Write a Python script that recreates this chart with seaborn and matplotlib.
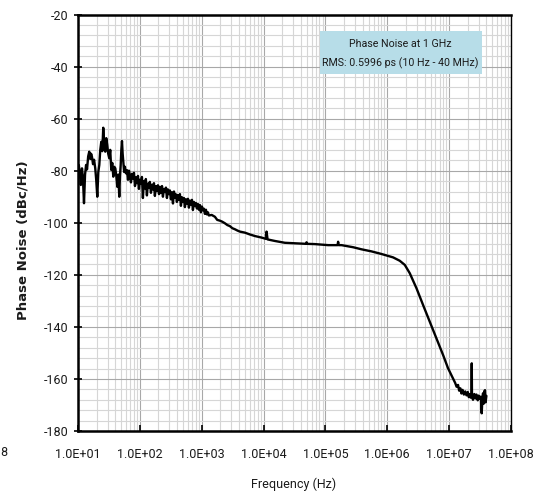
import matplotlib
matplotlib.use("Agg")
import matplotlib.pyplot as plt
from matplotlib.ticker import FixedLocator, FuncFormatter, NullFormatter
from matplotlib.patches import Rectangle
import seaborn as sns
import pandas as pd
import numpy as np

# Offset frequency (Hz) and phase noise (dBc/Hz)
freq_hz = [
    10.0, 10.3, 10.7, 11.1, 11.6, 12.0, 12.5, 13.0, 13.5, 14.0,
    14.6, 15.2, 15.8, 16.3, 16.8, 17.5, 18.2, 19.0, 19.7, 20.5,
    21.3, 22.1, 22.9, 23.8, 24.7, 25.6, 26.6, 27.6, 28.6, 29.7,
    30.8, 32.0, 33.2, 34.5, 35.8, 37.2, 38.6, 40.1, 41.6, 43.2,
    44.8, 46.5, 47.7, 49.0, 50.2, 51.4, 52.7, 54.0, 55.7,
    57.4, 59.5, 61.9, 64.3, 66.7, 69.2, 71.8, 74.5, 77.4, 80.3,
    83.4, 86.5, 89.8, 93.2, 96.6, 100, 104, 108, 112, 116,
    121, 125, 130, 135, 140, 145, 151, 157, 163, 169,
    175, 182, 189, 196, 204, 211, 219, 228, 236, 245,
    254, 264, 274, 284, 295, 306, 318, 330, 343, 356,
    369, 383, 397, 412, 428, 444, 461, 479, 497, 516,
    535, 556, 577, 599, 621, 645, 669, 695, 721, 748,
    776, 806, 836, 868, 901, 935, 971, 1008, 1045, 1085,
    1127, 1170, 1213, 1260, 1306,
    1450, 1633, 1780, 1966, 2150, 2370, 2600, 2855, 3130, 3440,
    3780, 4140, 4550, 4990, 6010, 7230, 9290, 11000, 11170, 11610,
    15240, 22100, 32050, 48500, 49500, 51000, 67500, 110700, 157000, 160400,
    164000, 181900, 280000, 382700, 555500, 805600, 1.24e6, 1.59e6, 1.92e6, 2.31e6,
    2.97e6, 3.79e6, 4.86e6, 6.24e6, 7.98e6, 9.60e6, 1.156e7, 1.25e7, 1.32e7, 1.393e7,
    1.45e7, 1.52e7, 1.58e7, 1.65e7, 1.73e7, 1.82e7, 1.905e7, 2.0e7, 2.08e7, 2.155e7,
    2.23e7, 2.30e7, 2.32e7, 2.34e7, 2.43e7, 2.55e7, 2.66e7, 2.76e7, 2.9e7, 3.0e7,
    3.12e7, 3.25e7, 3.36e7, 3.45e7, 3.53e7, 3.62e7, 3.70e7, 3.80e7, 3.88e7, 4.0e7,
]
phase_noise_dbc = [
    -79.0, -77.8, -81.0, -85.5, -79.1, -82.5, -92.5, -81.5, -77.8, -79.5,
    -74.5, -72.7, -75.5, -73.5, -74.6, -77.5, -75.8, -79.1, -83.5, -90.0,
    -80.5, -77.8, -72.0, -68.9, -72.5, -63.5, -70.5, -72.7, -67.5, -70.1,
    -73.5, -75.2, -72.0, -79.7, -77.0, -82.3, -78.5, -79.1, -82.0, -86.2,
    -81.5, -90.0, -82.0, -77.8, -72.0, -68.6, -73.5, -76.5, -80.5,
    -78.5, -81.0, -79.8, -83.5, -80.0, -82.0, -84.5, -81.2, -83.0, -80.8,
    -85.9, -82.6, -84.8, -82.0, -87.0, -83.5, -85.0, -82.4, -90.5, -84.0,
    -86.8, -83.2, -89.5, -85.0, -86.5, -84.3, -88.5, -85.4, -87.2, -84.8,
    -89.7, -86.0, -87.8, -85.6, -89.0, -86.2, -88.6, -85.9, -90.0, -87.0,
    -88.2, -86.5, -90.5, -87.2, -89.0, -87.6, -91.0, -88.3, -92.6, -88.0,
    -90.4, -89.1, -92.0, -89.4, -91.2, -89.0, -93.5, -90.2, -92.0, -90.5,
    -94.0, -91.0, -92.6, -90.8, -94.2, -91.5, -93.0, -91.2, -95.1, -92.0,
    -93.6, -92.4, -94.5, -92.8, -95.0, -93.2, -96.0, -93.8, -95.2, -94.6,
    -96.6, -95.0, -96.8, -96.0, -97.2,
    -97.0, -97.7, -98.9, -99.2, -99.6, -100.2, -100.9, -101.3, -102.1, -102.5,
    -103.0, -103.4, -103.6, -103.8, -104.5, -105.1, -105.7, -106.2, -103.4, -106.4,
    -107.0, -107.7, -107.9, -108.1, -107.5, -108.1, -108.2, -108.6, -108.6, -107.3,
    -108.6, -108.6, -109.4, -110.2, -111.0, -112.0, -113.3, -114.6, -116.2, -119.4,
    -125.2, -131.6, -138.0, -144.4, -150.8, -155.9, -159.8, -161.5, -163.0, -162.3,
    -164.5, -163.6, -165.6, -164.2, -166.0, -164.8, -166.3, -165.0, -167.0, -165.8,
    -167.2, -166.0, -154.0, -166.5, -168.0, -165.8, -167.5, -166.0, -168.2, -166.4,
    -167.6, -166.8, -173.2, -167.5, -165.5, -169.5, -164.8, -164.3, -169.0, -166.5,
]

x_tick_exponents = [1, 2, 3, 4, 5, 6, 7, 8]
y_ticks = [-20, -40, -60, -80, -100, -120, -140, -160, -180]
box_lines = ["Phase Noise at 1 GHz", "RMS: 0.5996 ps (10 Hz - 40 MHz)"]

sns.set_theme(style="white")
plt.rcParams["font.family"] = ["Roboto", "DejaVu Sans"]

df = pd.DataFrame({"Frequency (Hz)": freq_hz, "Phase Noise (dBc/Hz)": phase_noise_dbc})

fig = plt.figure(figsize=(5.37, 4.92), dpi=100)
ax = fig.add_axes([78 / 537, 1 - 431 / 492, 433 / 537, 416.5 / 492])

sns.lineplot(data=df, x="Frequency (Hz)", y="Phase Noise (dBc/Hz)", ax=ax,
             color="black", linewidth=1.7, estimator=None, sort=False, zorder=5)

ax.set_xscale("log")
ax.set_xlim(10, 1e8)
ax.set_ylim(-180, -20)

major_x = [10.0 ** e for e in x_tick_exponents]
minor_x = [m * 10.0 ** e for e in x_tick_exponents[:-1] for m in range(2, 10)]
ax.xaxis.set_major_locator(FixedLocator(major_x))
ax.xaxis.set_minor_locator(FixedLocator(minor_x))
ax.xaxis.set_major_formatter(FuncFormatter(lambda v, p: "1.0E+%02d" % int(round(np.log10(v)))))
ax.xaxis.set_minor_formatter(NullFormatter())

ax.yaxis.set_major_locator(FixedLocator(y_ticks))
ax.yaxis.set_minor_locator(FixedLocator(list(range(-180, -19, 4))))
ax.yaxis.set_major_formatter(FuncFormatter(lambda v, p: "%d" % v))

ax.grid(True, which="major", color="#a8a8a8", linewidth=0.8, zorder=0)
ax.grid(True, which="minor", color="#d6d6d6", linewidth=0.8, zorder=0)
ax.set_axisbelow(True)

ax.tick_params(axis="x", which="major", direction="in", length=4, width=1.2,
               colors="black", labelsize=9, pad=12, bottom=True)
ax.tick_params(axis="y", which="major", direction="inout", length=6, width=1.2,
               colors="black", labelsize=9, pad=4, left=True)
ax.tick_params(which="minor", length=0)
for lab in ax.get_xticklabels() + ax.get_yticklabels():
    lab.set_color("#1a1a1a")

for side in ["left", "bottom", "top"]:
    ax.spines[side].set_color("black")
    ax.spines[side].set_linewidth(1.8)
ax.spines["right"].set_color("black")
ax.spines["right"].set_linewidth(1.0)

ax.set_xlabel("Frequency (Hz)", fontsize=9, color="#1a1a1a")
ax.xaxis.set_label_coords(0.497, -0.112)
ax.set_ylabel("Phase Noise (dBc/Hz)", fontsize=9.5, fontweight="bold",
              family=["DejaVu Sans"], color="#1a1a1a")
ax.yaxis.set_label_coords(-0.111, 0.459)

ax.add_patch(Rectangle((0.558, 0.857), 0.374, 0.103, transform=ax.transAxes,
                       facecolor="#b7dde8", edgecolor="none", zorder=3))
ax.text(0.745, 0.929, box_lines[0], transform=ax.transAxes, ha="center", va="center",
        fontsize=7.7, color="#1a1a1a", zorder=4)
ax.text(0.745, 0.884, box_lines[1], transform=ax.transAxes, ha="center", va="center",
        fontsize=7.7, color="#1a1a1a", zorder=4)

fig.text(0.0, 1 - 452 / 492, "8", ha="left", va="center", fontsize=9, color="#1a1a1a")

fig.savefig("out.png", dpi=100)
